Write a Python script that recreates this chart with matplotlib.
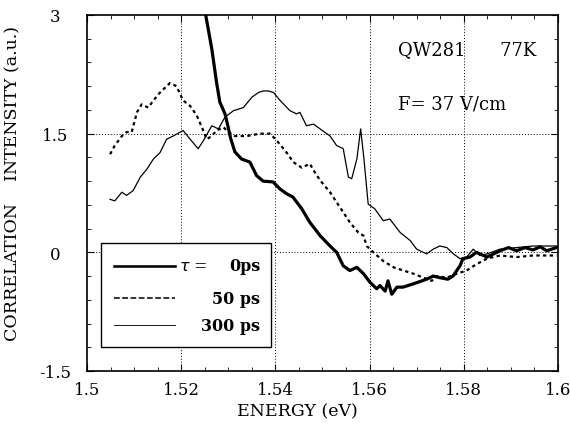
import numpy as np
import matplotlib.pyplot as plt
from matplotlib.ticker import MultipleLocator
from matplotlib.patches import Rectangle

plt.rcParams['font.family'] = ['DejaVu Serif']

# tau = 0 ps (thick)
e0 = [1.5252, 1.5265, 1.5275, 1.5282, 1.5293, 1.5299, 1.5305, 1.5314, 1.5328,
      1.5346, 1.5360, 1.5374, 1.5395, 1.5410, 1.5424, 1.5437, 1.5456, 1.5473,
      1.5495, 1.5516, 1.5530, 1.5544, 1.5558, 1.5573, 1.5587, 1.5601, 1.5615,
      1.5622, 1.5633, 1.5639, 1.5647, 1.5658, 1.5671, 1.5692, 1.5721, 1.5735,
      1.5749, 1.5766, 1.5777, 1.5792, 1.5798, 1.5813, 1.5827, 1.5849, 1.5877,
      1.5895, 1.5912, 1.5930, 1.5947, 1.5962, 1.5976, 1.5997]
i0 = [3.00, 2.57, 2.15, 1.90, 1.75, 1.60, 1.44, 1.27, 1.18,
      1.14, 0.97, 0.90, 0.89, 0.80, 0.74, 0.70, 0.55, 0.38,
      0.21, 0.08, 0.00, -0.17, -0.23, -0.19, -0.27, -0.38, -0.46,
      -0.42, -0.49, -0.36, -0.53, -0.44, -0.44, -0.40, -0.34, -0.30,
      -0.32, -0.34, -0.30, -0.17, -0.08, -0.06, 0.00, -0.06, 0.02,
      0.06, 0.02, 0.06, 0.03, 0.07, 0.02, 0.06]

# tau = 50 ps (dashed)
e50 = [1.5049, 1.5059, 1.5074, 1.5084, 1.5095, 1.5106, 1.5116, 1.5130, 1.5141,
       1.5155, 1.5176, 1.5190, 1.5204, 1.5219, 1.5233, 1.5244, 1.5254, 1.5265,
       1.5275, 1.5290, 1.5300, 1.5314, 1.5339, 1.5367, 1.5389, 1.5406, 1.5424,
       1.5438, 1.5456, 1.5473, 1.5484, 1.5495, 1.5516, 1.5537, 1.5558, 1.5576,
       1.5587, 1.5594, 1.5608, 1.5629, 1.5651, 1.5672, 1.5693, 1.5714, 1.5732,
       1.5742, 1.5764, 1.5785, 1.5806, 1.5827, 1.5849, 1.5877, 1.5912, 1.5947,
       1.5997]
i50 = [1.24, 1.35, 1.47, 1.52, 1.52, 1.77, 1.87, 1.83, 1.92,
       2.02, 2.14, 2.10, 1.92, 1.85, 1.73, 1.58, 1.43, 1.47,
       1.54, 1.58, 1.52, 1.47, 1.47, 1.50, 1.50, 1.39, 1.26,
       1.14, 1.07, 1.12, 1.01, 0.91, 0.76, 0.57, 0.38, 0.25,
       0.21, 0.08, 0.00, -0.11, -0.19, -0.23, -0.27, -0.32, -0.36,
       -0.30, -0.32, -0.27, -0.23, -0.15, -0.08, -0.04, -0.06, -0.04,
       -0.04]

# tau = 300 ps (thin)
e300 = [1.5049, 1.5059, 1.5074, 1.5084, 1.5098, 1.5113, 1.5127, 1.5141, 1.5155,
        1.5169, 1.5183, 1.5204, 1.5219, 1.5236, 1.5247, 1.5265, 1.5279, 1.5293,
        1.5311, 1.5332, 1.5350, 1.5364, 1.5374, 1.5385, 1.5396, 1.5410, 1.5431,
        1.5445, 1.5452, 1.5466, 1.5481, 1.5495, 1.5516, 1.5530, 1.5544, 1.5555,
        1.5562, 1.5573, 1.5581, 1.5588, 1.5597, 1.5611, 1.5629, 1.5643, 1.5665,
        1.5686, 1.5700, 1.5721, 1.5735, 1.5749, 1.5764, 1.5778, 1.5792, 1.5806,
        1.5820, 1.5834, 1.5849, 1.5877, 1.5912, 1.5947, 1.5997]
i300 = [0.67, 0.65, 0.76, 0.72, 0.78, 0.95, 1.05, 1.18, 1.26,
        1.43, 1.47, 1.54, 1.43, 1.31, 1.41, 1.60, 1.56, 1.71,
        1.79, 1.83, 1.96, 2.02, 2.04, 2.04, 2.02, 1.92, 1.79,
        1.75, 1.77, 1.60, 1.62, 1.56, 1.47, 1.35, 1.31, 0.95,
        0.93, 1.18, 1.56, 1.18, 0.61, 0.55, 0.40, 0.42, 0.25,
        0.15, 0.04, -0.02, 0.04, 0.08, 0.06, -0.02, -0.08, -0.06,
        0.04, -0.04, -0.02, 0.04, 0.06, 0.08, 0.08]

xticks = [1.5, 1.52, 1.54, 1.56, 1.58, 1.6]
xticklabels = ['1.5', '1.52', '1.54', '1.56', '1.58', '1.6']
yticks = [-1.5, 0, 1.5, 3]
yticklabels = ['-1.5', '0', '1.5', '3']
legend_labels = ['0ps', '50 ps', '300 ps']

fig = plt.figure(figsize=(5.7, 4.35), dpi=100)
ax = fig.add_axes([87/570, 1 - 372/435, 471/570, 356/435])

s0, = ax.plot(e0, i0, color='black', lw=2.3)
s50, = ax.plot(e50, i50, color='black', lw=1.6, ls=(0, (1.5, 1.5)))
s300, = ax.plot(e300, i300, color='black', lw=0.9)

ax.set_xlim(1.5, 1.6)
ax.set_ylim(-1.5, 3)
ax.set_xticks(xticks)
ax.set_xticklabels(xticklabels)
ax.set_yticks(yticks)
ax.set_yticklabels(yticklabels, ha='center')
ax.xaxis.set_minor_locator(MultipleLocator(0.005))
ax.yaxis.set_minor_locator(MultipleLocator(0.3))
ax.tick_params(which='both', direction='in', top=True, right=True, labelsize=12)
ax.tick_params(which='major', length=5)
ax.tick_params(which='minor', length=3)
ax.tick_params(axis='x', pad=7)
ax.tick_params(axis='y', pad=23)
for s in ax.spines.values():
    s.set_linewidth(1.2)

for x in [1.52, 1.54, 1.56, 1.58]:
    ax.axvline(x, color='black', lw=0.7, ls=(0, (1, 2)), zorder=0)
ax.axhline(0, color='black', lw=0.7, ls=(0, (1, 2)), zorder=0)
ax.axhline(1.5, color='black', lw=0.7, ls=(0, (1, 2)), zorder=0)

ax.set_xlabel('ENERGY (eV)', fontsize=12.5)
ax.xaxis.set_label_coords(0.446, -0.088)
ax.set_ylabel('CORRELATION    INTENSITY (a.u.)', fontsize=12.5)
ax.yaxis.set_label_coords(-0.14, 0.53)

ax.text(0.66, 0.89, 'QW281      77K', transform=ax.transAxes, fontsize=13,
        va='baseline')
ax.text(0.66, 0.736, 'F= 37 V/cm', transform=ax.transAxes, fontsize=13,
        va='baseline')

# legend box drawn by hand so the labels can be right-aligned
ax.add_patch(Rectangle((0.029, 0.067), 0.362, 0.292, transform=ax.transAxes,
                       facecolor='white', edgecolor='black', lw=1.0, zorder=5))
rows = [0.296, 0.205, 0.129]
for h, y, lab in zip([s0, s50, s300], rows, legend_labels):
    ax.plot([0.057, 0.187], [y, y], transform=ax.transAxes, color='black',
            lw=h.get_linewidth() * 0.8 if h is s0 else h.get_linewidth() * 0.7,
            ls=h.get_linestyle(), zorder=6)
    ax.text(0.368, y, lab, transform=ax.transAxes, ha='right', va='center',
            fontsize=11.5, fontweight='bold', zorder=6)
ax.text(0.195, rows[0], r'$\tau$ =', transform=ax.transAxes, ha='left',
        va='center', fontsize=11.5, zorder=6)

fig.savefig('out.png', dpi=100)
